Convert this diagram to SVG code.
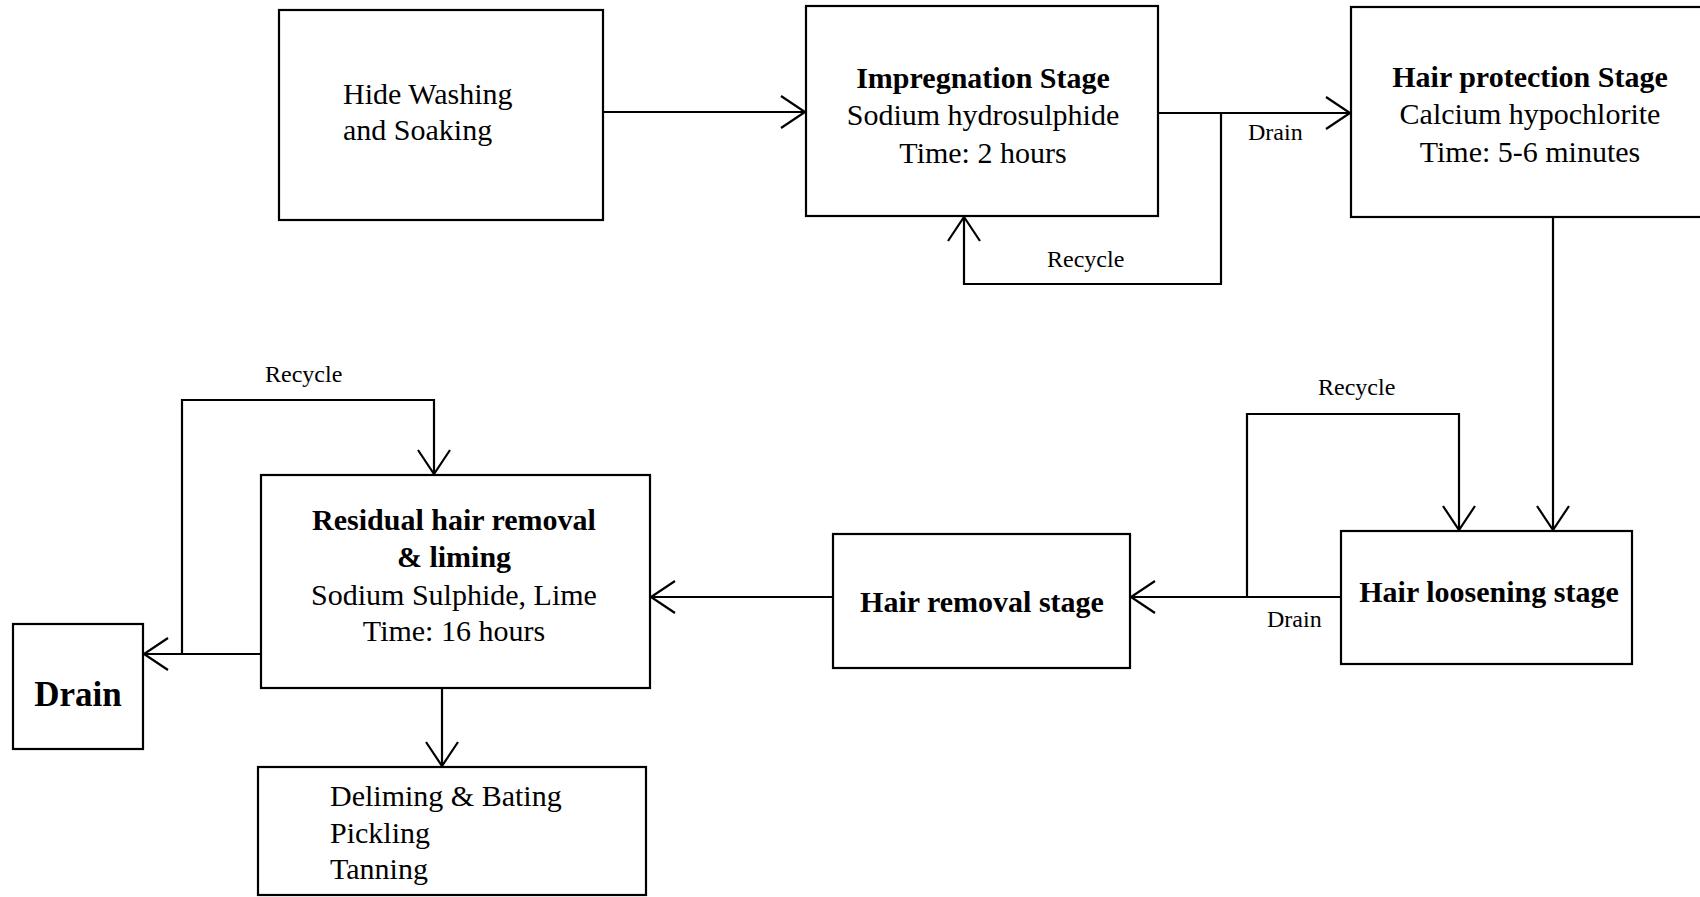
<svg xmlns="http://www.w3.org/2000/svg" width="1700" height="897" viewBox="0 0 1700 897">
<style>
.box{fill:#fff;stroke:#000;stroke-width:2.2}
.t{font-family:"Liberation Serif","Times New Roman",serif;font-size:30px;fill:#000}
.b{font-weight:bold}
.c{text-anchor:middle}
.s{font-family:"Liberation Serif","Times New Roman",serif;font-size:24px;fill:#000}
.ln{fill:none;stroke:#000;stroke-width:2.2;marker-end:url(#ah)}
</style>
<defs>
<marker id="ah" markerUnits="userSpaceOnUse" markerWidth="40" markerHeight="40" viewBox="-30 -20 40 40" refX="0" refY="0" orient="auto" overflow="visible">
<path d="M-24,-16 L0,0 L-24,16" fill="none" stroke="#000" stroke-width="2.2"/>
</marker>
</defs>
<rect width="1700" height="897" fill="#fff"/>
<g id="connectors">
<path class="ln" d="M603,112 H805"/>
<path class="ln" d="M1158,113 H1350"/>
<path class="ln" d="M1221,113 V284 H964 V217"/>
<path class="ln" d="M1553,217 V530"/>
<path class="ln" d="M1247,597 V414 H1459 V530"/>
<path class="ln" d="M1341,597 H1131"/>
<path class="ln" d="M833,597 H651"/>
<path class="ln" d="M261,654 H144"/>
<path class="ln" d="M182,654 V400 H434 V474"/>
<path class="ln" d="M442,688 V766"/>
<text class="s" x="1047" y="267">Recycle</text>
<text class="s" x="1248" y="140">Drain</text>
<text class="s" x="1318" y="395">Recycle</text>
<text class="s" x="1267" y="627">Drain</text>
<text class="s" x="265" y="382">Recycle</text>
</g>
<g id="hide-washing">
<rect class="box" x="279" y="10" width="324" height="210"/>
<text class="t" x="343" y="104">Hide Washing</text>
<text class="t" x="343" y="140">and Soaking</text>
</g>
<g id="impregnation">
<rect class="box" x="806" y="6" width="352" height="210"/>
<text class="t b c" x="983" y="88">Impregnation Stage</text>
<text class="t c" x="983" y="125">Sodium hydrosulphide</text>
<text class="t c" x="983" y="163">Time: 2 hours</text>
</g>
<g id="hair-protection">
<rect class="box" x="1351" y="7" width="360" height="210"/>
<text class="t b c" x="1530" y="87">Hair protection Stage</text>
<text class="t c" x="1530" y="124">Calcium hypochlorite</text>
<text class="t c" x="1530" y="162">Time: 5-6 minutes</text>
</g>
<g id="hair-loosening">
<rect class="box" x="1341" y="531" width="291" height="133"/>
<text class="t b c" x="1489" y="602">Hair loosening stage</text>
</g>
<g id="hair-removal">
<rect class="box" x="833" y="534" width="297" height="134"/>
<text class="t b c" x="982" y="612">Hair removal stage</text>
</g>
<g id="residual">
<rect class="box" x="261" y="475" width="389" height="213"/>
<text class="t b c" x="454" y="530">Residual hair removal</text>
<text class="t b c" x="454" y="567">&amp; liming</text>
<text class="t c" x="454" y="605">Sodium Sulphide, Lime</text>
<text class="t c" x="454" y="641">Time: 16 hours</text>
</g>
<g id="drain">
<rect class="box" x="13" y="624" width="130" height="125"/>
<text class="t b c" x="78" y="706" style="font-size:35px">Drain</text>
</g>
<g id="deliming">
<rect class="box" x="258" y="767" width="388" height="128"/>
<text class="t" x="330" y="806">Deliming &amp; Bating</text>
<text class="t" x="330" y="843">Pickling</text>
<text class="t" x="330" y="879">Tanning</text>
</g>
</svg>
